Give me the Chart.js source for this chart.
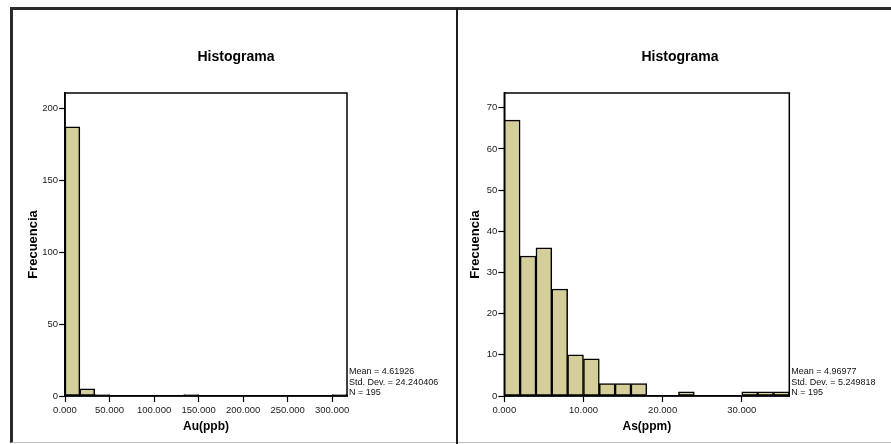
<!DOCTYPE html>
<html>
<head>
<meta charset="utf-8">
<title>Histograma</title>
<script src="https://cdn.jsdelivr.net/npm/chart.js@4.4.1/dist/chart.umd.min.js"></script>
<style>
  html, body { margin: 0; padding: 0; background: #fff; width: 891px; height: 444px; overflow: hidden; }
  #frame { position: absolute; left: 10px; top: 7px; width: 881px; height: 436px; box-sizing: border-box;
           border-top: 3px solid #2b2b2b; border-left: 3px solid #2b2b2b; border-bottom: 1px solid #bdbdbd; }
  #divider { position: absolute; left: 456px; top: 8px; width: 2px; height: 436px; background: #1e1e1e; z-index: 5; }
  #auBox { position: absolute; left: 11px; top: 10px; width: 450px; height: 432px; }
  #asBox { position: absolute; left: 462px; top: 10px; width: 436px; height: 432px; }
</style>
</head>
<body>
<div id="frame"></div>
<div id="auBox"><canvas id="auChart"></canvas></div>
<div id="asBox"><canvas id="asChart"></canvas></div>
<div id="divider"></div>
<script>
// Au(ppb): 19 bins of 16.667
const auBinWidth = 50 / 3;
const auCounts = [187, 5, 1, 0, 0, 0, 0, 0, 1, 0, 0, 0, 0, 0, 0, 0, 0, 0, 1];
const auXTicks = [0, 50, 100, 150, 200, 250, 300];
const auYTicks = [0, 50, 100, 150, 200];
const auStats = ['Mean = 4.61926', 'Std. Dev. = 24.240406', 'N = 195'];

// As(ppm): 18 bins of 2
const asBinWidth = 2;
const asCounts = [67, 34, 36, 26, 10, 9, 3, 3, 3, 0, 0, 1, 0, 0, 0, 1, 1, 1];
const asXTicks = [0, 10, 20, 30];
const asYTicks = [0, 10, 20, 30, 40, 50, 60, 70];
const asStats = ['Mean = 4.96977', 'Std. Dev. = 5.249818', 'N = 195'];

Chart.defaults.font.family = '"Liberation Sans", Arial, sans-serif';
Chart.defaults.color = '#1a1a1a';

const barFill = 'rgb(211, 206, 154)';

// box round the plot area + the SPSS stats text at its lower right
const statsPlugin = {
  id: 'stats',
  afterDraw (chart, args, o) {
    const { ctx, chartArea: a } = chart;
    ctx.save();
    ctx.strokeStyle = '#000';
    ctx.lineWidth = 1.5;
    ctx.strokeRect(a.left, a.top, a.right - a.left, a.bottom - a.top);
    ctx.font = '9px "Liberation Sans", Arial, sans-serif';
    ctx.fillStyle = '#111';
    ctx.textBaseline = 'middle';
    o.lines.forEach((t, i) => ctx.fillText(t, a.right + 2, a.bottom - 24 + i * 10.5));
    ctx.restore();
  }
};

function histogram (id, counts, binWidth, opts) {
  const points = counts.map((c, i) => ({ x: (i + 0.5) * binWidth, y: c }));
  return new Chart(document.getElementById(id), {
    type: 'bar',
    data: {
      datasets: [{
        data: points,
        backgroundColor: barFill,
        borderColor: '#000',
        borderWidth: 1.5,
        borderSkipped: false,
        barPercentage: 1,
        categoryPercentage: 1
      }]
    },
    options: {
      responsive: true,
      maintainAspectRatio: false,
      animation: false,
      layout: { padding: 0 },
      plugins: {
        legend: { display: false },
        tooltip: { enabled: false },
        title: {
          display: true,
          text: 'Histograma',
          color: '#000',
          font: { size: 14, weight: 'bold' },
          padding: { top: 38.3, bottom: 27.9 }
        },
        stats: { lines: opts.stats }
      },
      scales: {
        x: {
          type: 'linear',
          offset: false,
          min: 0,
          max: counts.length * binWidth,
          afterBuildTicks: s => { s.ticks = opts.xTicks.map(v => ({ value: v })); },
          afterFit: s => { s.height = 46; },
          ticks: { callback: v => v.toFixed(3), autoSkip: false, maxRotation: 0, padding: 3, font: { size: 9.5 } },
          grid: { offset: false, drawOnChartArea: false, tickLength: 6, color: '#000', tickWidth: 1.2 },
          border: { color: '#000', width: 1.5 },
          title: { display: true, text: opts.xTitle, color: '#000', font: { size: 12, weight: 'bold' }, padding: { top: 0, bottom: 8.3 } }
        },
        y: {
          min: 0,
          max: opts.yMax,
          afterBuildTicks: s => { s.ticks = opts.yTicks.map(v => ({ value: v })); },
          afterFit: s => { s.width = opts.yWidth; },
          ticks: { callback: v => String(v), padding: 1, font: { size: 9.5 } },
          grid: { drawOnChartArea: false, tickLength: 6, color: '#000', tickWidth: 1.2 },
          border: { color: '#000', width: 1.5 },
          title: { display: true, text: 'Frecuencia', color: '#000', font: { size: 13, weight: 'bold' }, padding: { top: opts.yTitlePad, bottom: 0 } }
        },
        // empty right-hand axis, only reserves the room for the stats text
        yPad: {
          type: 'linear',
          position: 'right',
          grid: { display: false },
          ticks: { display: false },
          border: { display: false },
          afterFit: s => { s.width = opts.rightRoom; }
        }
      }
    },
    plugins: [statsPlugin]
  });
}

histogram('auChart', auCounts, auBinWidth, {
  xTicks: auXTicks, yTicks: auYTicks, yMax: 210.6, stats: auStats,
  xTitle: 'Au(ppb)', yWidth: 54, yTitlePad: 14.5, rightRoom: 114
});
histogram('asChart', asCounts, asBinWidth, {
  xTicks: asXTicks, yTicks: asYTicks, yMax: 73.6, stats: asStats,
  xTitle: 'As(ppm)', yWidth: 42.3, yTitlePad: 5.2, rightRoom: 108.7
});
</script>
</body>
</html>
